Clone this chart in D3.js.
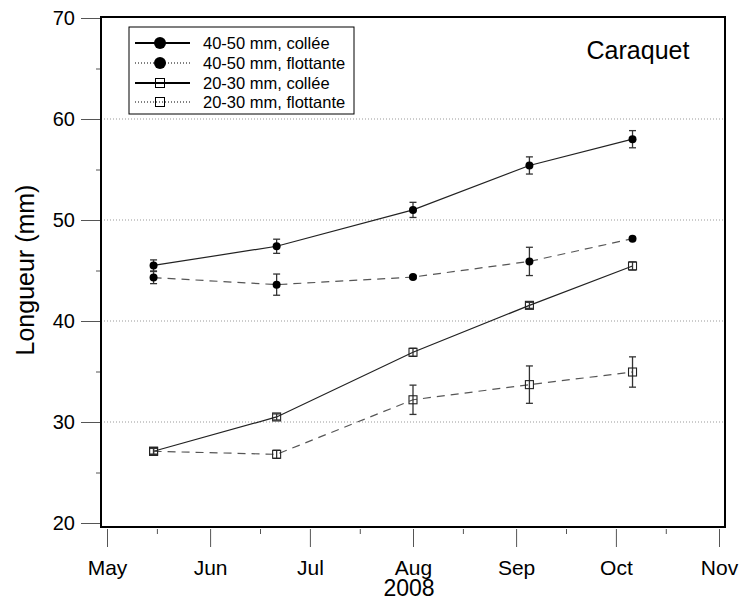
<!DOCTYPE html>
<html>
<head>
<meta charset="utf-8">
<script src="https://cdn.jsdelivr.net/npm/d3@7"></script>
<style>
  body { margin: 0; background: #fff; }
  svg { font-family: "Liberation Sans", Arial, sans-serif; }
</style>
</head>
<body>
<div id="chart"></div>
<script>
// sampling dates and measured lengths (mm)
const sampleDates = ["2008-05-15", "2008-06-21", "2008-08-01", "2008-09-05", "2008-10-06"];
const coll4050 = [45.5, 47.4, 51.0, 55.4, 58.0];
const coll4050Err = [0.55, 0.7, 0.75, 0.85, 0.85];
const flot4050 = [44.3, 43.6, 44.35, 45.9, 48.15];
const flot4050Err = [0.6, 1.05, 0.15, 1.4, 0.15];
const coll2030 = [27.1, 30.5, 36.9, 41.55, 45.45];
const coll2030Err = [0.3, 0.3, 0.4, 0.3, 0.4];
const flot2030 = [27.1, 26.8, 32.2, 33.7, 34.95];
const flot2030Err = [0.3, 0.4, 1.45, 1.85, 1.5];

const monthLabels = ["May", "Jun", "Jul", "Aug", "Sep", "Oct", "Nov"];
const yTicks = [20, 30, 40, 50, 60, 70];
const gridValues = [30, 40, 50, 60];

const parse = d3.timeParse("%Y-%m-%d");

const series = [
    { name: "40-50 mm, collée", values: coll4050, err: coll4050Err, marker: "circle", dashed: false },
    { name: "40-50 mm, flottante", values: flot4050, err: flot4050Err, marker: "circle", dashed: true },
    { name: "20-30 mm, collée", values: coll2030, err: coll2030Err, marker: "square", dashed: false },
    { name: "20-30 mm, flottante", values: flot2030, err: flot2030Err, marker: "square", dashed: true }
];

const svg = d3.select("#chart").append("svg")
    .attr("width", 741)
    .attr("height", 599);

const x = d3.scaleTime()
    .domain([new Date(2008, 4, 1), new Date(2008, 10, 1)])
    .range([107, 719]);

const y = d3.scaleLinear()
    .domain([20, 70])
    .range([523, 18]);

const frame = { left: 101, right: 725, top: 17, bottom: 527 };

// gridlines
svg.selectAll(".grid")
    .data(gridValues)
    .enter().append("line")
    .attr("x1", frame.left)
    .attr("x2", frame.right)
    .attr("y1", d => y(d))
    .attr("y2", d => y(d))
    .attr("stroke", "#999")
    .attr("stroke-width", 1)
    .attr("stroke-dasharray", "1,2");

// y axis
const yAxis = d3.axisLeft(y).tickValues(yTicks).tickSize(20).tickPadding(6);
const gy = svg.append("g").attr("transform", `translate(${frame.left},0)`).call(yAxis);
gy.select(".domain").remove();
gy.selectAll(".tick line").attr("stroke", "#555");
gy.selectAll(".tick text").attr("font-size", 20).attr("fill", "#000");

const yMinor = d3.axisLeft(y).tickValues([25, 35, 45, 55, 65]).tickSize(5).tickFormat("");
const gym = svg.append("g").attr("transform", `translate(${frame.left},0)`).call(yMinor);
gym.select(".domain").remove();
gym.selectAll(".tick line").attr("stroke", "#555");

// x axis
const months = d3.timeMonth.range(new Date(2008, 4, 1), new Date(2008, 10, 2));
const xAxis = d3.axisBottom(x).tickValues(months).tickSize(18).tickPadding(13)
    .tickFormat((d, i) => monthLabels[i]);
const gx = svg.append("g").attr("transform", `translate(0,${frame.bottom + 2})`).call(xAxis);
gx.select(".domain").remove();
gx.selectAll(".tick line").attr("stroke", "#555");
gx.selectAll(".tick text").attr("font-size", 21).attr("fill", "#000");

const mids = months.slice(0, -1).map(m => new Date(2008, m.getMonth(), 16));
const xMinor = d3.axisBottom(x).tickValues(mids).tickSize(5).tickFormat("");
const gxm = svg.append("g").attr("transform", `translate(0,${frame.bottom + 2})`).call(xMinor);
gxm.select(".domain").remove();
gxm.selectAll(".tick line").attr("stroke", "#555");

svg.append("text")
    .attr("x", 409)
    .attr("y", 596)
    .attr("text-anchor", "middle")
    .attr("font-size", 23)
    .text("2008");

svg.append("text")
    .attr("transform", "translate(34,270) rotate(-90)")
    .attr("text-anchor", "middle")
    .attr("font-size", 25)
    .text("Longueur (mm)");

// frame
svg.append("rect")
    .attr("x", frame.left)
    .attr("y", frame.top)
    .attr("width", frame.right - frame.left)
    .attr("height", frame.bottom - frame.top)
    .attr("fill", "none")
    .attr("stroke", "#000")
    .attr("stroke-width", 2);

// series
const line = d3.line()
    .x(d => x(d.date))
    .y(d => y(d.v));

series.forEach(s => {
    const pts = s.values.map((v, i) => ({ date: parse(sampleDates[i]), v: v, e: s.err[i] }));

    svg.append("path")
        .datum(pts)
        .attr("d", line)
        .attr("fill", "none")
        .attr("stroke", s.dashed ? "#555" : "#222")
        .attr("stroke-width", 1.2)
        .attr("stroke-dasharray", s.dashed ? "8,6" : null);

    const g = svg.append("g");
    const eb = g.selectAll(".eb").data(pts).enter().append("g");
    eb.append("line")
        .attr("x1", d => x(d.date)).attr("x2", d => x(d.date))
        .attr("y1", d => y(d.v - d.e)).attr("y2", d => y(d.v + d.e))
        .attr("stroke", "#333").attr("stroke-width", 1.3);
    [-1, 1].forEach(sg => {
        eb.append("line")
            .attr("x1", d => x(d.date) - 3.5).attr("x2", d => x(d.date) + 3.5)
            .attr("y1", d => y(d.v + sg * d.e)).attr("y2", d => y(d.v + sg * d.e))
            .attr("stroke", "#333").attr("stroke-width", 1.3);
    });

    if (s.marker === "circle") {
        g.selectAll(".pt").data(pts).enter().append("circle")
            .attr("cx", d => x(d.date))
            .attr("cy", d => y(d.v))
            .attr("r", 4)
            .attr("fill", "#000");
    } else {
        g.selectAll(".pt").data(pts).enter().append("rect")
            .attr("x", d => x(d.date) - 4)
            .attr("y", d => y(d.v) - 4)
            .attr("width", 8)
            .attr("height", 8)
            .attr("fill", "none")
            .attr("stroke", "#222")
            .attr("stroke-width", 1.1);
    }
});

// site label
svg.append("text")
    .attr("x", 638)
    .attr("y", 59)
    .attr("text-anchor", "middle")
    .attr("font-size", 25)
    .text("Caraquet");

// legend
const legend = svg.append("g");
legend.append("rect")
    .attr("x", 129).attr("y", 27)
    .attr("width", 225).attr("height", 87)
    .attr("fill", "#fff")
    .attr("stroke", "#000")
    .attr("stroke-width", 1);

const rowY = [43, 63, 83, 102];
series.forEach((s, i) => {
    const ly = rowY[i];
    legend.append("line")
        .attr("x1", 135).attr("x2", 190)
        .attr("y1", ly).attr("y2", ly)
        .attr("stroke", "#000")
        .attr("stroke-width", s.dashed ? 1 : 2)
        .attr("stroke-dasharray", s.dashed ? "1,2" : null);
    if (s.marker === "circle") {
        legend.append("circle").attr("cx", 160).attr("cy", ly).attr("r", 6).attr("fill", "#000");
    } else {
        legend.append("rect")
            .attr("x", 155.5).attr("y", ly - 4.5).attr("width", 9).attr("height", 9)
            .attr("fill", "none").attr("stroke", "#000").attr("stroke-width", 1);
    }
    legend.append("text")
        .attr("x", 203).attr("y", ly + 6)
        .attr("font-size", 16.5)
        .text(s.name);
});
</script>
</body>
</html>
